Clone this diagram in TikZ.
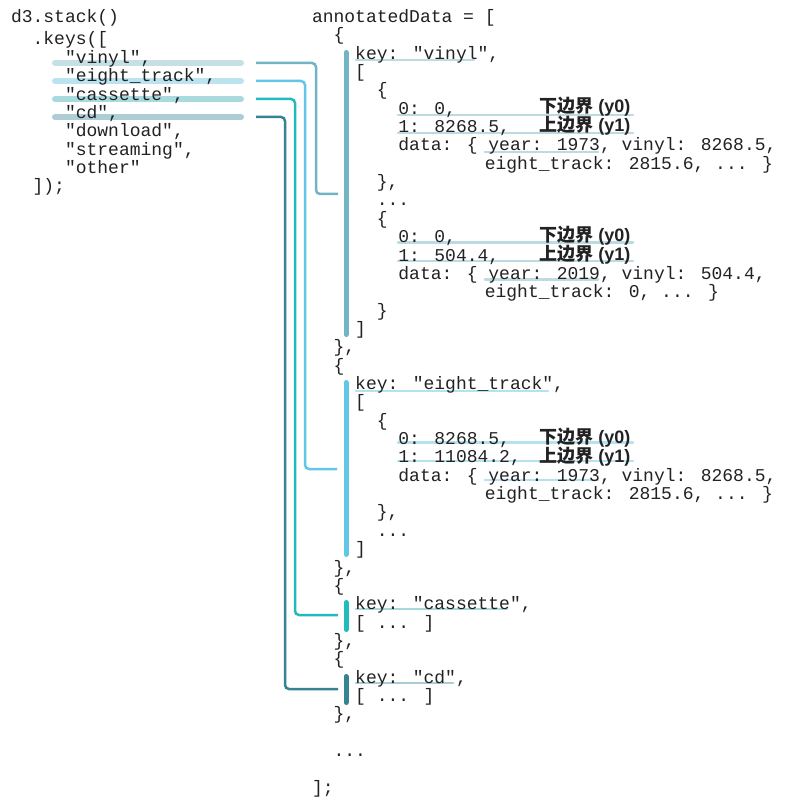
\documentclass[tikz,border=0pt]{standalone}
\usepackage{fontspec}
\newfontfamily\codefont{Liberation Mono}
\newfontfamily\cjkfont{Noto Sans CJK SC}
\newfontfamily\labsans{Liberation Sans}
\definecolor{codegray}{HTML}{222222}
\definecolor{vinylC}{HTML}{72B4C3}
\definecolor{eightC}{HTML}{62C7E5}
\definecolor{cassC}{HTML}{22BBBB}
\definecolor{cdC}{HTML}{368492}
\definecolor{vinylL}{HTML}{C6DFE4}
\definecolor{eightL}{HTML}{BBE4F0}
\definecolor{cassL}{HTML}{A9DADD}
\definecolor{cdL}{HTML}{ACCED4}
\definecolor{vinylU}{HTML}{BCDBE1}
\definecolor{eightU}{HTML}{B4E2EF}
\definecolor{cassU}{HTML}{A8D9DA}
\definecolor{cdU}{HTML}{AACDD3}
\newcommand\cln[4]{\node[code] (#1) at ({312+10.8*#2},{22.5+18.35*#3}) {#4};}
\newcommand\lln[4]{\node[code] (#1) at ({11+10.8*#2},{#3}) {#4};}
\newcommand\ylab[4]{\node[lab] (#1) at (539,#2) {{\cjkfont\bfseries #3} {\labsans\bfseries (#4)}};}
\begin{document}
\begin{tikzpicture}[x=1pt,y=-1pt,
  code/.style={anchor=base west, inner sep=0pt, outer sep=0pt,
    font=\codefont\fontsize{18}{18}\selectfont, text=codegray},
  lab/.style={anchor=base west, inner sep=0pt, outer sep=0pt,
    font=\fontsize{18}{18}\selectfont, text=codegray},
  hbar/.style={line width=6pt, line cap=round},
  conn/.style={line width=2.5pt, rounded corners=4pt},
  vbar/.style={line width=5pt, line cap=round},
  uline/.style={line width=2.8pt, line cap=round}]
\useasboundingbox[fill=white] (0,0) rectangle (786,810);

% ---- left highlight bars
\draw[hbar, vinylL] (55,63) -- (241,63);
\draw[hbar, eightL] (55,81) -- (241,81);
\draw[hbar, cassL]  (55,99) -- (241,99);
\draw[hbar, cdL]    (55,117) -- (241,117);

% ---- underlines on the right
\draw[uline, vinylU] (356,60) -- (474,60);
\draw[uline, vinylU] (398,115) -- (633,115);
\draw[uline, vinylU] (398,133) -- (633,133);
\draw[uline, vinylU] (485,152) -- (598,152);
\draw[uline, vinylU] (398,242.5) -- (633,242.5);
\draw[uline, vinylU] (398,261) -- (633,261);
\draw[uline, vinylU] (485,279.5) -- (598,279.5);
\draw[uline, eightU] (356,391) -- (548,391);
\draw[uline, eightU] (398,442.5) -- (633,442.5);
\draw[uline, eightU] (398,461) -- (633,461);
\draw[uline, eightU] (485,480) -- (598,480);
\draw[uline, cassU] (356,609) -- (507,609);
\draw[uline, cdU] (356,683) -- (453,683);

% ---- left code
\lln{l0}{0}{22.5}{d3.stack()}
\lln{l1}{2}{45}{.keys([}
\lln{l2}{5}{63.35}{"vinyl",}
\lln{l3}{5}{81.7}{"eight\_track",}
\lln{l4}{5}{100.05}{"cassette",}
\lln{l5}{5}{118.4}{"cd",}
\lln{l6}{5}{136.75}{"download",}
\lln{l7}{5}{155.1}{"streaming",}
\lln{l8}{5}{173.45}{"other"}
\lln{l9}{2}{191.8}{]);}

% ---- right code
\cln{r0}{0}{0}{annotatedData = [}
\cln{r1}{2}{1}{\{}
\cln{r2}{4}{2}{key: "vinyl",}
\cln{r3}{4}{3}{[}
\cln{r4}{6}{4}{\{}
\cln{r5}{8}{5}{0: 0,}
\cln{r6}{8}{6}{1: 8268.5,}
\cln{r7}{8}{7}{data: \{ year: 1973, vinyl: 8268.5,}
\cln{r8}{16}{8}{eight\_track: 2815.6, ... \}}
\cln{r9}{6}{9}{\},}
\cln{r10}{6}{10}{...}
\cln{r11}{6}{11}{\{}
\cln{r12}{8}{12}{0: 0,}
\cln{r13}{8}{13}{1: 504.4,}
\cln{r14}{8}{14}{data: \{ year: 2019, vinyl: 504.4,}
\cln{r15}{16}{15}{eight\_track: 0, ... \}}
\cln{r16}{6}{16}{\}}
\cln{r17}{4}{17}{]}
\cln{r18}{2}{18}{\},}
\cln{r19}{2}{19}{\{}
\cln{r20}{4}{20}{key: "eight\_track",}
\cln{r21}{4}{21}{[}
\cln{r22}{6}{22}{\{}
\cln{r23}{8}{23}{0: 8268.5,}
\cln{r24}{8}{24}{1: 11084.2,}
\cln{r25}{8}{25}{data: \{ year: 1973, vinyl: 8268.5,}
\cln{r26}{16}{26}{eight\_track: 2815.6, ... \}}
\cln{r27}{6}{27}{\},}
\cln{r28}{6}{28}{...}
\cln{r29}{4}{29}{]}
\cln{r30}{2}{30}{\},}
\cln{r31}{2}{31}{\{}
\cln{r32}{4}{32}{key: "cassette",}
\cln{r33}{4}{33}{[ ... ]}
\cln{r34}{2}{34}{\},}
\cln{r35}{2}{35}{\{}
\cln{r36}{4}{36}{key: "cd",}
\cln{r37}{4}{37}{[ ... ]}
\cln{r38}{2}{38}{\},}
\cln{r40}{2}{40}{...}
\cln{r42}{0}{42}{];}

% ---- labels
\ylab{a0}{113}{下边界}{y0}
\ylab{a1}{131.5}{上边界}{y1}
\ylab{b0}{241.5}{下边界}{y0}
\ylab{b1}{260}{上边界}{y1}
\ylab{c0}{443.5}{下边界}{y0}
\ylab{c1}{462}{上边界}{y1}

% ---- right vertical bars
\draw[vbar, vinylC] (346,52.5) -- (346,334.5);
\draw[vbar, eightC] (346,382.5) -- (346,554.5);
\draw[vbar, cassC]  (346,602.5) -- (346,629.5);
\draw[vbar, cdC]    (346,676.5) -- (346,702.5);

% ---- connectors
\coordinate (sv) at (256,63);  \coordinate (ev) at (338,194);
\coordinate (se) at (256,81);  \coordinate (ee) at (337,469);
\coordinate (sc) at (256,99);  \coordinate (ec) at (338,615);
\coordinate (sd) at (256,117); \coordinate (ed) at (338,689);
\draw[conn, vinylC] (sv) -- (316,63) -- (316,194) -- (ev);
\draw[conn, eightC] (se) -- (305,81) -- (305,469) -- (ee);
\draw[conn, cassC]  (sc) -- (295,99) -- (295,615) -- (ec);
\draw[conn, cdC]    (sd) -- (285,117) -- (285,689) -- (ed);
\end{tikzpicture}
\end{document}
